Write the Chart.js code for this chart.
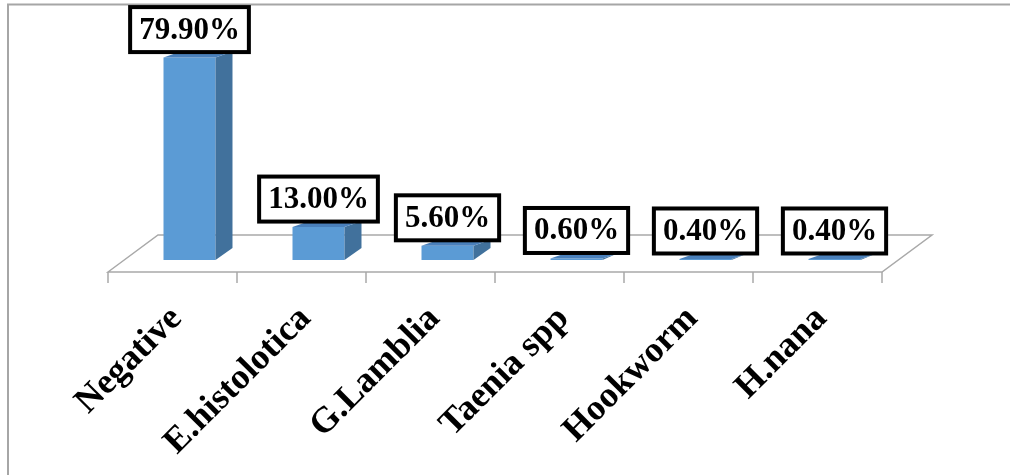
<!DOCTYPE html>
<html>
<head>
<meta charset="utf-8">
<script src="https://cdn.jsdelivr.net/npm/chart.js@4.4.1/dist/chart.umd.min.js"></script>
<style>
    body { margin: 0; background: #fff; }
    #wrap { width: 1010px; height: 475px; position: relative; }
</style>
</head>
<body>
<div id="wrap"><canvas id="parasites"></canvas></div>
<script>
// datos
const categories = ['Negative', 'E.histolotica', 'G.Lamblia', 'Taenia spp', 'Hookworm', 'H.nana'];
const percentages = [79.9, 13.0, 5.6, 0.6, 0.4, 0.4];
const valueLabels = ['79.90%', '13.00%', '5.60%', '0.60%', '0.40%', '0.40%'];

const serif = "'Liberation Serif', 'Times New Roman', serif";

// caras falsas en 3D, piso, marco y etiquetas con caja
const fake3d = {
    id: 'fake3d',
    beforeDatasetsDraw(chart) {
        const ctx = chart.ctx;
        const area = chart.chartArea;
        ctx.save();
        // marco gris
        ctx.strokeStyle = '#a6a6a6';
        ctx.lineWidth = 2;
        ctx.beginPath();
        ctx.moveTo(8, 475);
        ctx.lineTo(8, 4.5);
        ctx.lineTo(1010, 4.5);
        ctx.stroke();

        // piso
        let fl = area.left - 17;
        let fr = area.right - 17;
        let fy = area.bottom + 12;
        ctx.strokeStyle = '#a9a9a9';
        ctx.lineWidth = 1.5;
        ctx.beginPath();
        ctx.moveTo(fl, fy);
        ctx.lineTo(fl + 50, fy - 37);
        ctx.lineTo(fr + 50, fy - 37);
        ctx.lineTo(fr, fy);
        ctx.closePath();
        ctx.stroke();
        // marcas del eje
        let n = categories.length;
        ctx.beginPath();
        for (let i = 0; i <= n; i++) {
            let x = fl + i * (fr - fl) / n;
            ctx.moveTo(x, fy);
            ctx.lineTo(x, fy + 11);
        }
        ctx.stroke();
        ctx.restore();
    },
    afterDatasetsDraw(chart) {
        const ctx = chart.ctx;
        const meta = chart.getDatasetMeta(0);
        ctx.save();
        meta.data.forEach(function (bar, i) {
            let p = bar.getProps(['x', 'y', 'base', 'width'], true);
            let L = p.x - p.width / 2;
            let R = p.x + p.width / 2;
            let top = p.y;
            let bot = p.base;
            let backTop = top - 6;
            let backBot = Math.max(bot - 12, backTop);
            // lado
            ctx.fillStyle = '#41719c';
            ctx.beginPath();
            ctx.moveTo(R, bot);
            ctx.lineTo(R + 17, backBot);
            ctx.lineTo(R + 17, backTop);
            ctx.lineTo(R, top);
            ctx.closePath();
            ctx.fill();
            // tapa
            ctx.fillStyle = '#4a80bb';
            ctx.beginPath();
            ctx.moveTo(L, top);
            ctx.lineTo(R, top);
            ctx.lineTo(R + 17, backTop);
            ctx.lineTo(L + 17, backTop);
            ctx.closePath();
            ctx.fill();
        });

        // etiquetas con caja
        ctx.font = 'bold 31px ' + serif;
        ctx.textAlign = 'center';
        ctx.textBaseline = 'middle';
        meta.data.forEach(function (bar, i) {
            let p = bar.getProps(['x', 'y'], true);
            let txt = valueLabels[i];
            let w = ctx.measureText(txt).width + 18;
            let h = 45;
            let bottom = p.y - 5.5;
            ctx.fillStyle = '#fff';
            ctx.fillRect(p.x - w / 2, bottom - h, w, h);
            ctx.strokeStyle = '#000';
            ctx.lineWidth = 4;
            ctx.strokeRect(p.x - w / 2, bottom - h, w, h);
            ctx.fillStyle = '#000';
            ctx.fillText(txt, p.x, bottom - h / 2 + 1);
        });
        ctx.restore();
    }
};

let ctx = document.getElementById('parasites');
let grafico = new Chart(ctx, {
    type: 'bar',
    data: {
        labels: categories,
        datasets: [
            {
                label: 'Prevalence',
                data: percentages,
                backgroundColor: '#5b9bd5',
                borderWidth: 0,
                barPercentage: 0.403,
                categoryPercentage: 1,
            },
        ],
    },
    options: {
        responsive: true,
        maintainAspectRatio: false,
        animation: false,
        layout: {
            padding: { left: 125, right: 111, top: 32, bottom: 0 }
        },
        scales: {
            x: {
                grid: { display: false, drawTicks: false },
                border: { display: false },
                ticks: {
                    autoSkip: false,
                    minRotation: 45,
                    maxRotation: 45,
                    padding: 38,
                    labelOffset: -13,
                    color: '#000',
                    font: { family: serif, size: 36, weight: 'bold' },
                },
                afterFit: function (scale) { scale.height = 215; },
            },
            y: {
                display: false,
                min: 0,
                max: 90,
            },
        },
        plugins: {
            legend: { display: false },
            tooltip: { enabled: false },
        },
    },
    plugins: [fake3d],
});
</script>
</body>
</html>
